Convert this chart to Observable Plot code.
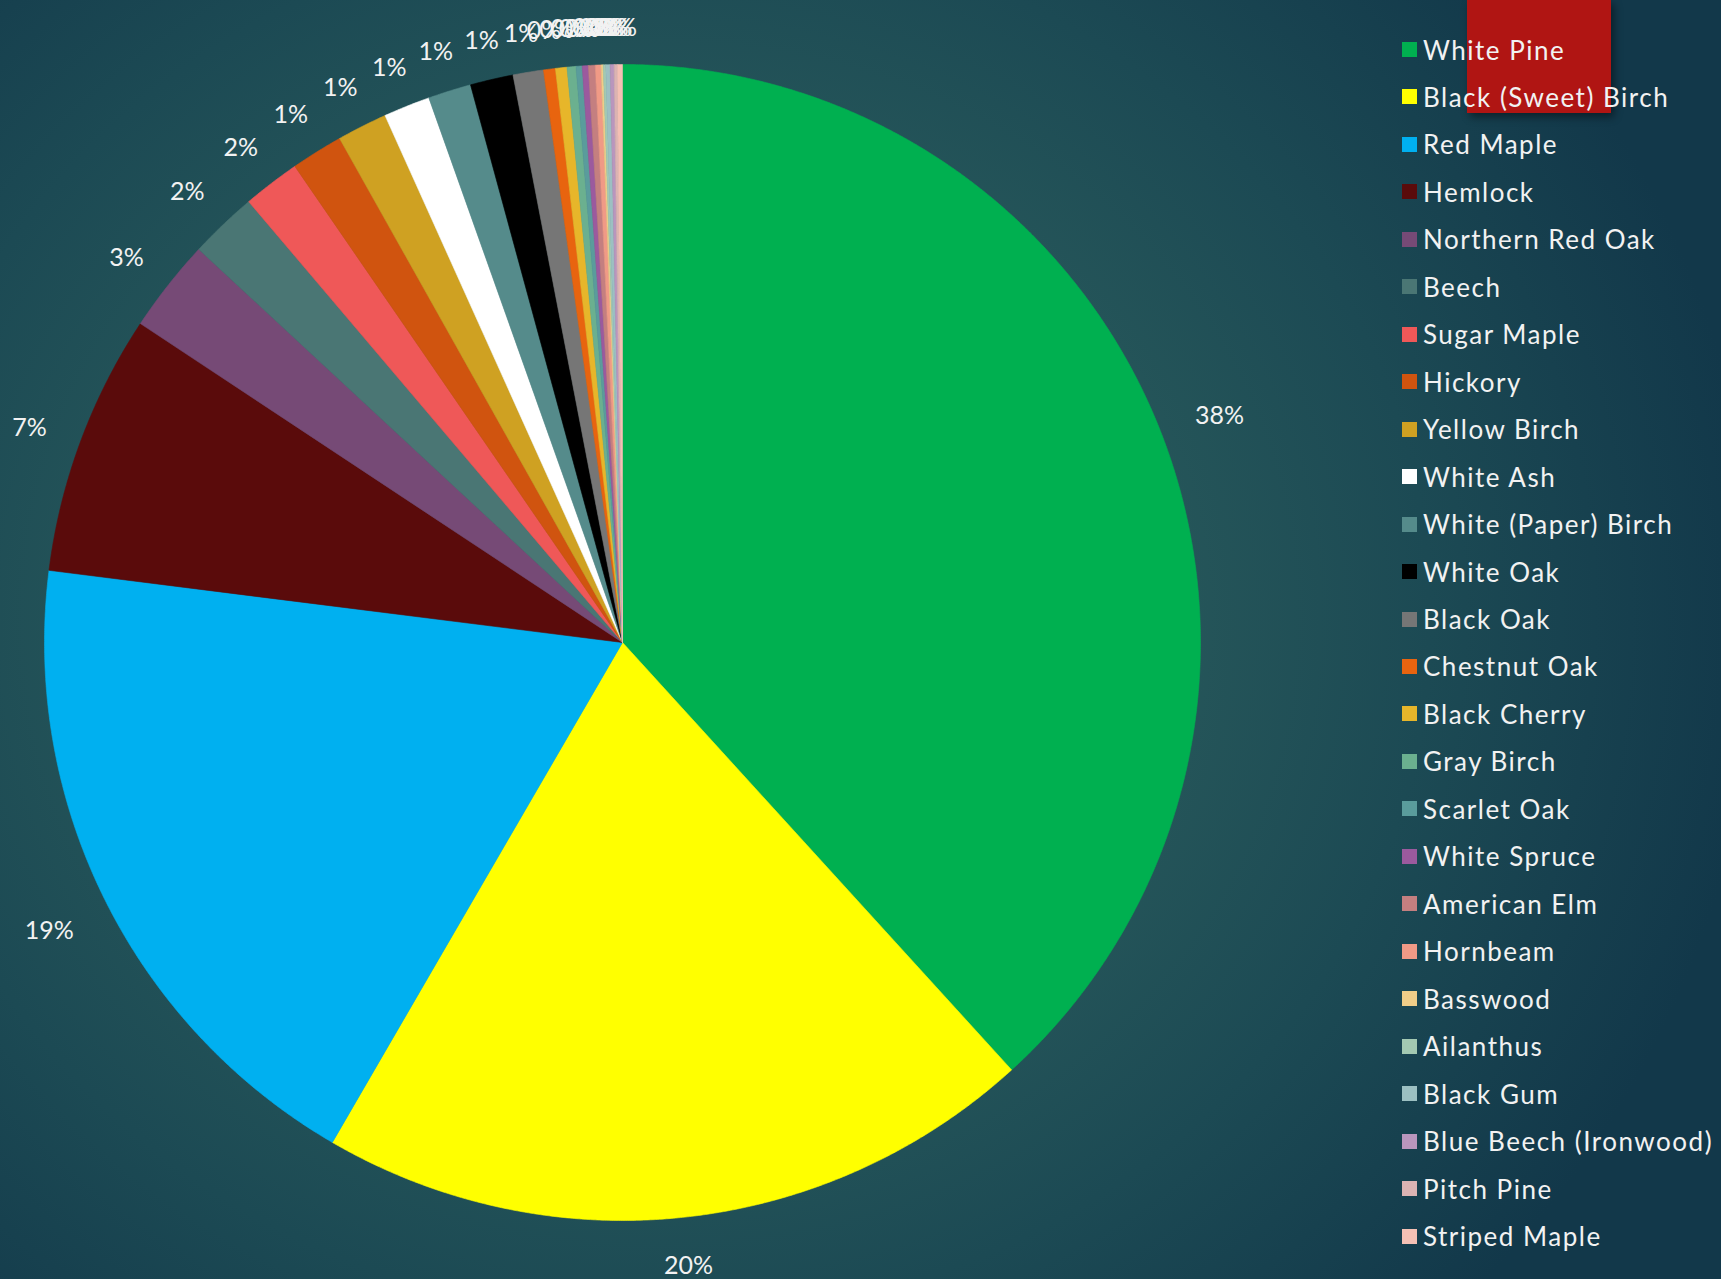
<!DOCTYPE html>
<html><head><meta charset="utf-8">
<script src="https://cdn.jsdelivr.net/npm/d3@7"></script>
<script src="https://cdn.jsdelivr.net/npm/@observablehq/plot@0.6"></script>
<style>
html,body{margin:0;padding:0;width:1721px;height:1279px;overflow:hidden;}
body{background:radial-gradient(ellipse 1100px 1000px at 660px 620px,#2f6361 0%,#28595b 40%,#1c4a54 70%,#12384a 100%);font-family:Lato,"Open Sans",sans-serif;}
#redbox{position:absolute;left:1467px;top:0;width:144px;height:113px;background:#b01513;box-shadow:3px 4px 8px rgba(0,0,0,0.45);}
#chart{position:absolute;left:0;top:0;}
#legend{position:absolute;left:1402px;top:0;}
.row{position:absolute;left:0;height:30px;white-space:nowrap;color:#f2f2f2;font-size:26px;line-height:30px;letter-spacing:1.5px;}
.sw{position:absolute;left:0;top:7.5px;width:15px;height:15px;}
.lb{position:absolute;left:21px;top:0;}
</style></head><body>
<div id="redbox"></div>
<div id="chart"></div>
<div id="legend"></div>
<script>
const species = ["White Pine","Black (Sweet) Birch","Red Maple","Hemlock","Northern Red Oak","Beech","Sugar Maple","Hickory","Yellow Birch","White Ash","White (Paper) Birch","White Oak","Black Oak","Chestnut Oak","Black Cherry","Gray Birch","Scarlet Oak","White Spruce","American Elm","Hornbeam","Basswood","Ailanthus","Black Gum","Blue Beech (Ironwood)","Pitch Pine","Striped Maple"];
const shares = [38.2,20.1,18.6,7.3,2.6,1.9,1.6,1.45,1.4,1.3,1.2,1.2,0.85,0.33,0.32,0.25,0.17,0.17,0.19,0.16,0.06,0.07,0.12,0.11,0.09,0.14];
const colors = ["#00b050","#ffff00","#00b0f0","#5a0b0b","#764a76","#4a7674","#ef5858","#d0540f","#cfa122","#ffffff","#558b8b","#000000","#767676","#e8640f","#e7b62a","#6bb08f","#5a9c9c","#9b5a9e","#c47f80","#f09a86","#f0cd88","#a3c9b2","#9cc0c2","#b996bd","#dbb3b3","#f4c0b4"];

const R = 578; // pie radius in pixels (domain 1 = R px), used for label offset
const total = d3.sum(shares);
const slices = [];
const labels = [];
let acc = 0;
species.forEach((name, i) => {
  const a0 = acc / total * 2 * Math.PI;
  acc += shares[i];
  const a1 = acc / total * 2 * Math.PI;
  const pts = [{name, x: 0, y: 0}];
  const n = Math.max(2, Math.ceil((a1 - a0) / 0.004));
  for (let k = 0; k <= n; k++) {
    const a = a0 + (a1 - a0) * k / n;
    pts.push({name, x: Math.sin(a), y: Math.cos(a)});
  }
  pts.push({name, x: 0, y: 0});
  slices.push(...pts);
  const am = (a0 + a1) / 2;
  const text = Math.round(shares[i] / total * 100) + "%";
  const hw = 8.5 * text.length;
  const off = 37 + hw * Math.abs(Math.sin(am)) + 4 * Math.abs(Math.cos(am));
  const rr = 1 + off / R;
  labels.push({name, x: rr * Math.sin(am), y: rr * Math.cos(am), text});
});

const chart = Plot.plot({
  width: 1721, height: 1279,
  marginLeft: 44, marginRight: 521, marginTop: 64, marginBottom: 59,
  x: {domain: [-1, 1], axis: null},
  y: {domain: [-1, 1], axis: null},
  color: {domain: species, range: colors},
  style: {background: "transparent", overflow: "visible"},
  marks: [
    Plot.line(slices, {x: "x", y: "y", z: "name", fill: "name", stroke: "name", strokeWidth: 0.6, strokeLinejoin: "miter", curve: "linear"}),
    Plot.text(labels, {x: "x", y: "y", text: "text", dy: 5, fill: "#f2f2f2", fontSize: 25, fontFamily: "Lato, 'Open Sans', sans-serif", textAnchor: "middle", style: "letter-spacing:0.5px"})
  ]
});
document.getElementById("chart").appendChild(chart);

const legend = document.getElementById("legend");
species.forEach((name, i) => {
  const row = document.createElement("div");
  row.className = "row";
  row.style.top = (49.5 + i * 47.46 - 15) + "px";
  const sw = document.createElement("div");
  sw.className = "sw";
  sw.style.background = colors[i];
  const lb = document.createElement("div");
  lb.className = "lb";
  lb.textContent = name;
  row.appendChild(sw); row.appendChild(lb);
  legend.appendChild(row);
});
</script>
</body></html>
